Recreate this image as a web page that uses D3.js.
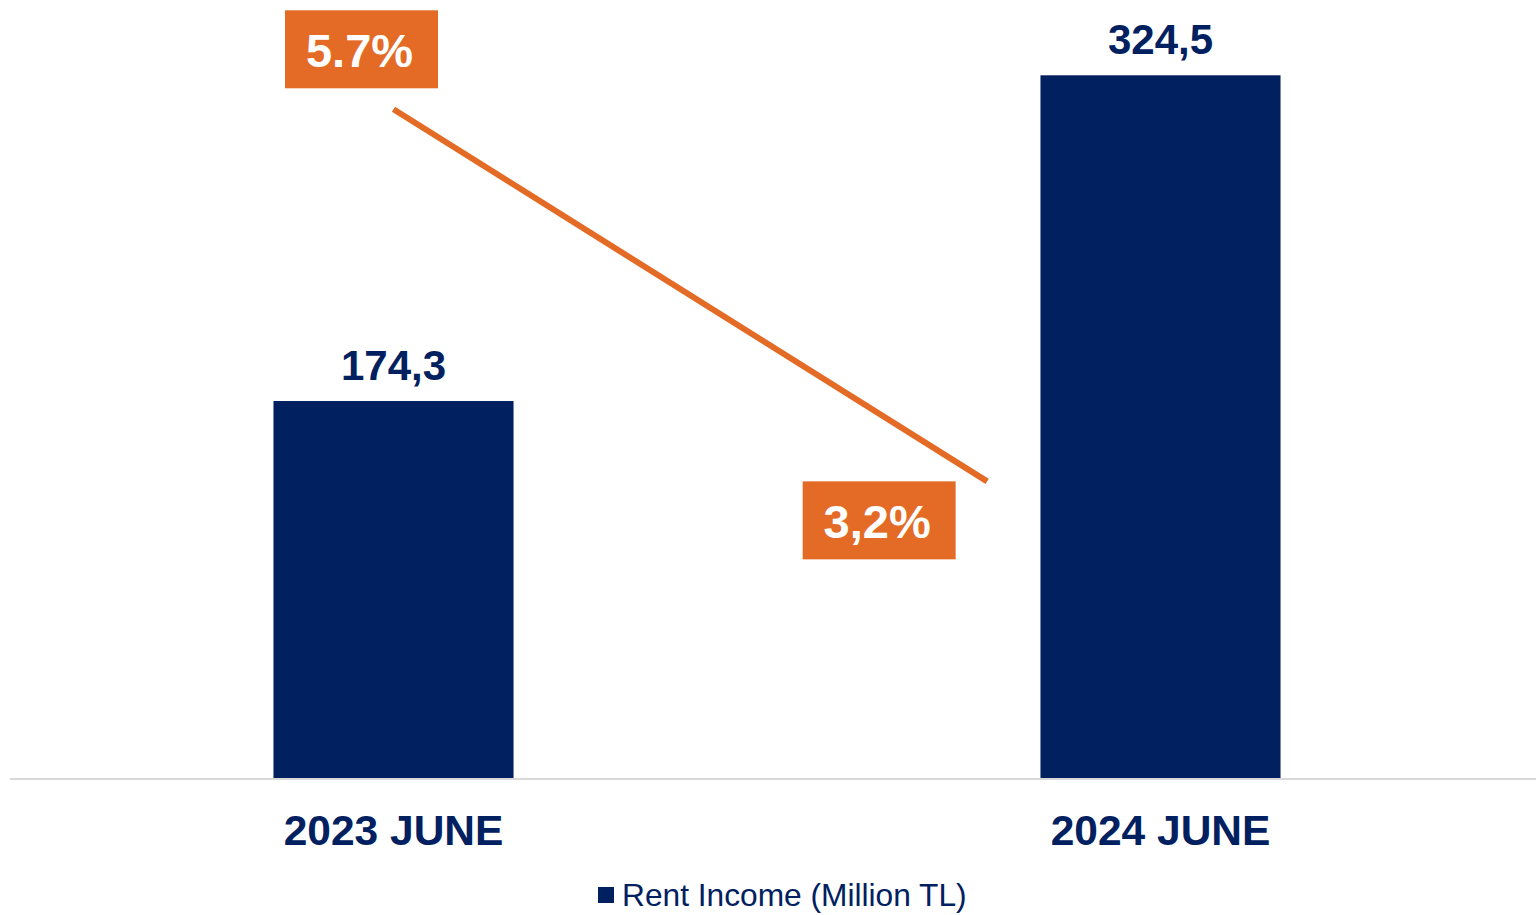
<!DOCTYPE html>
<html>
<head>
<meta charset="utf-8">
<script src="https://cdn.jsdelivr.net/npm/d3@7"></script>
<style>
  html, body { margin: 0; padding: 0; background: #ffffff; }
  svg { display: block; }
  text { font-family: "Liberation Sans", Arial, sans-serif; }
</style>
</head>
<body>
<svg id="chart" width="1536" height="915"></svg>
<script>
// Rent income by period (million TL) and the rate shown on the line
const periods = ["2023 JUNE", "2024 JUNE"];
const rentIncome = [174.3, 324.5];
const rentIncomeLabels = ["174,3", "324,5"];
const rates = [5.7, 3.2];
const rateLabels = ["5.7%", "3,2%"];
const legendLabel = "Rent Income (Million TL)";

const NAVY = "#002060";
const ORANGE = "#E46B25";

const svg = d3.select("#chart");

// Plot area
const plotLeft = 10, plotRight = 1544, plotTop = 20, plotBottom = 779;

const x = d3.scaleBand()
  .domain(periods)
  .range([plotLeft, plotRight])
  .paddingInner(0.687)
  .paddingOuter(0.3435);

const y = d3.scaleLinear().domain([0, 350]).range([plotBottom, plotTop]);
const yRate = d3.scaleLinear().domain([1.2, 6.3]).range([plotBottom, plotTop]);

// Line x positions along the category axis (index units between bar centres)
const centre = i => x(periods[i]) + x.bandwidth() / 2;
const xIdx = d3.scaleLinear().domain([0, 1]).range([centre(0), centre(1)]);
const lineIdx = [0, 0.774];

// Bars
svg.append("g")
  .selectAll("rect")
  .data(rentIncome)
  .join("rect")
  .attr("x", (d, i) => x(periods[i]))
  .attr("y", d => y(d))
  .attr("width", x.bandwidth())
  .attr("height", d => y(0) - y(d))
  .attr("fill", NAVY);

// Baseline
svg.append("line")
  .attr("x1", plotLeft).attr("x2", 1536)
  .attr("y1", y(0)).attr("y2", y(0))
  .attr("stroke", "#D9D9D9").attr("stroke-width", 2);

// Bar value labels
svg.append("g")
  .selectAll("text")
  .data(rentIncome)
  .join("text")
  .attr("x", (d, i) => centre(i))
  .attr("y", d => y(d) - 21)
  .attr("text-anchor", "middle")
  .attr("font-size", 42)
  .attr("font-weight", "bold")
  .attr("fill", NAVY)
  .text((d, i) => rentIncomeLabels[i]);

// Category axis labels
const xAxis = d3.axisBottom(x).tickSize(0).tickPadding(0);
const axisG = svg.append("g")
  .attr("transform", `translate(0,${y(0)})`)
  .call(xAxis);
axisG.select(".domain").remove();
axisG.selectAll("text")
  .attr("y", 66)
  .attr("dy", null)
  .attr("font-size", 42.5)
  .attr("font-weight", "bold")
  .attr("font-family", "'Liberation Sans', Arial, sans-serif")
  .attr("fill", NAVY);

// Rate line
const linePts = rates.map((r, i) => [xIdx(lineIdx[i]), yRate(r)]);
svg.append("path")
  .datum(linePts)
  .attr("d", d3.line())
  .attr("fill", "none")
  .attr("stroke", ORANGE)
  .attr("stroke-width", 6);

// Rate label boxes, offset from each line end
const boxW = 153, boxH = 78;
const boxOffsets = [[-32, -60], [-108, 39]];
const rateG = svg.append("g")
  .selectAll("g")
  .data(rates)
  .join("g")
  .attr("transform", (d, i) =>
    `translate(${linePts[i][0] + boxOffsets[i][0]},${linePts[i][1] + boxOffsets[i][1]})`);
rateG.append("rect")
  .attr("x", -boxW / 2).attr("y", -boxH / 2)
  .attr("width", boxW).attr("height", boxH)
  .attr("fill", ORANGE);
rateG.append("text")
  .attr("x", -2)
  .attr("y", 18)
  .attr("text-anchor", "middle")
  .attr("font-size", 47)
  .attr("font-weight", "bold")
  .attr("fill", "#ffffff")
  .text((d, i) => rateLabels[i]);

// Legend
const legend = svg.append("g").attr("transform", "translate(598,887)");
legend.append("rect")
  .attr("width", 16).attr("height", 16)
  .attr("fill", NAVY);
legend.append("text")
  .attr("x", 24).attr("y", 19)
  .attr("font-size", 31.7)
  .attr("fill", NAVY)
  .text(legendLabel);
</script>
</body>
</html>
